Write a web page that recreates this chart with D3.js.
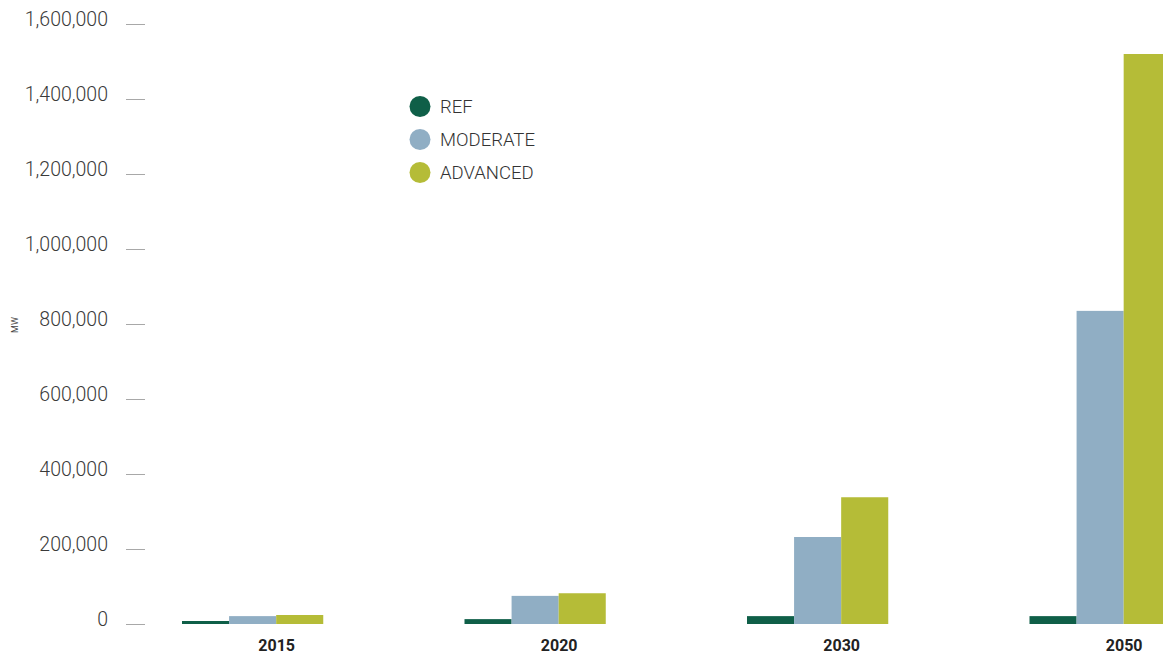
<!DOCTYPE html>
<html lang="en">
<head>
  <meta charset="UTF-8">
  <title>MW by scenario</title>
  <script src="https://d3js.org/d3.v7.min.js"></script>
  <style>
    body { margin: 0; background: #fff; }
    svg { font-family: Roboto, "Liberation Sans", sans-serif; }
    .tick-label { font-size: 19.5px; font-weight: 300; fill: #3a3a3a; }
    .year { font-size: 16px; font-weight: 700; fill: #222; }
    .legend text { font-size: 18.5px; font-weight: 300; fill: #333; }
  </style>
</head>
<body>
  <svg width="1163" height="655"></svg>
  <script>
    const years = ["2015", "2020", "2030", "2050"];
    const series = ["REF", "MODERATE", "ADVANCED"];
    const refValues = [8000, 13000, 21000, 21000];
    const moderateValues = [21000, 75000, 232000, 835000];
    const advancedValues = [24000, 82000, 338000, 1520000];
    const yTicks = [0, 200000, 400000, 600000, 800000, 1000000, 1200000, 1400000, 1600000];
    const colors = ["#0f5f48", "#90aec4", "#b5bc37"];

    const valuesBySeries = [refValues, moderateValues, advancedValues];

    const svg = d3.select("svg");

    const y = d3.scaleLinear()
      .domain([0, 1600000])
      .range([624, 24]);

    const x0 = d3.scaleBand()
      .domain(years)
      .range([182, 1170.75])
      .paddingInner(0.5)
      .paddingOuter(0);

    const x1 = d3.scaleBand()
      .domain(series)
      .range([0, x0.bandwidth()]);

    const color = d3.scaleOrdinal().domain(series).range(colors);

    // y axis: labels plus short grey dashes
    const yAxis = svg.append("g");
    yAxis.selectAll("line")
      .data(yTicks)
      .join("line")
      .attr("x1", 126)
      .attr("x2", 145)
      .attr("y1", d => y(d) + 0.5)
      .attr("y2", d => y(d) + 0.5)
      .attr("stroke", "#a8a8a8")
      .attr("stroke-width", 1);

    yAxis.selectAll("text")
      .data(yTicks)
      .join("text")
      .attr("class", "tick-label")
      .attr("x", 108)
      .attr("y", d => y(d))
      .attr("dy", "0.1em")
      .attr("text-anchor", "end")
      .text(d => d3.format(",")(d));

    svg.append("text")
      .attr("transform", "translate(18,325) rotate(-90)")
      .attr("text-anchor", "middle")
      .attr("font-size", 9)
      .attr("fill", "#444")
      .text("MW");

    // bars
    const groups = svg.append("g")
      .selectAll("g")
      .data(years)
      .join("g")
      .attr("transform", d => `translate(${x0(d)},0)`);

    groups.selectAll("rect")
      .data((d, i) => series.map((s, j) => ({ key: s, value: valuesBySeries[j][i] })))
      .join("rect")
      .attr("x", d => x1(d.key))
      .attr("width", x1.bandwidth())
      .attr("y", d => y(d.value))
      .attr("height", d => y(0) - y(d.value))
      .attr("fill", d => color(d.key));

    svg.append("g")
      .selectAll("text")
      .data(years)
      .join("text")
      .attr("class", "year")
      .attr("x", d => x0(d) + x0.bandwidth() / 2 + 24)
      .attr("y", 651)
      .attr("text-anchor", "middle")
      .text(d => d);

    // legend
    const legend = svg.append("g")
      .attr("class", "legend")
      .selectAll("g")
      .data(series)
      .join("g")
      .attr("transform", (d, i) => `translate(420,${106.5 + i * 33})`);

    legend.append("circle")
      .attr("r", 10.5)
      .attr("fill", d => color(d));

    legend.append("text")
      .attr("x", 20)
      .attr("dy", "0.36em")
      .text(d => d);
  </script>
</body>
</html>
